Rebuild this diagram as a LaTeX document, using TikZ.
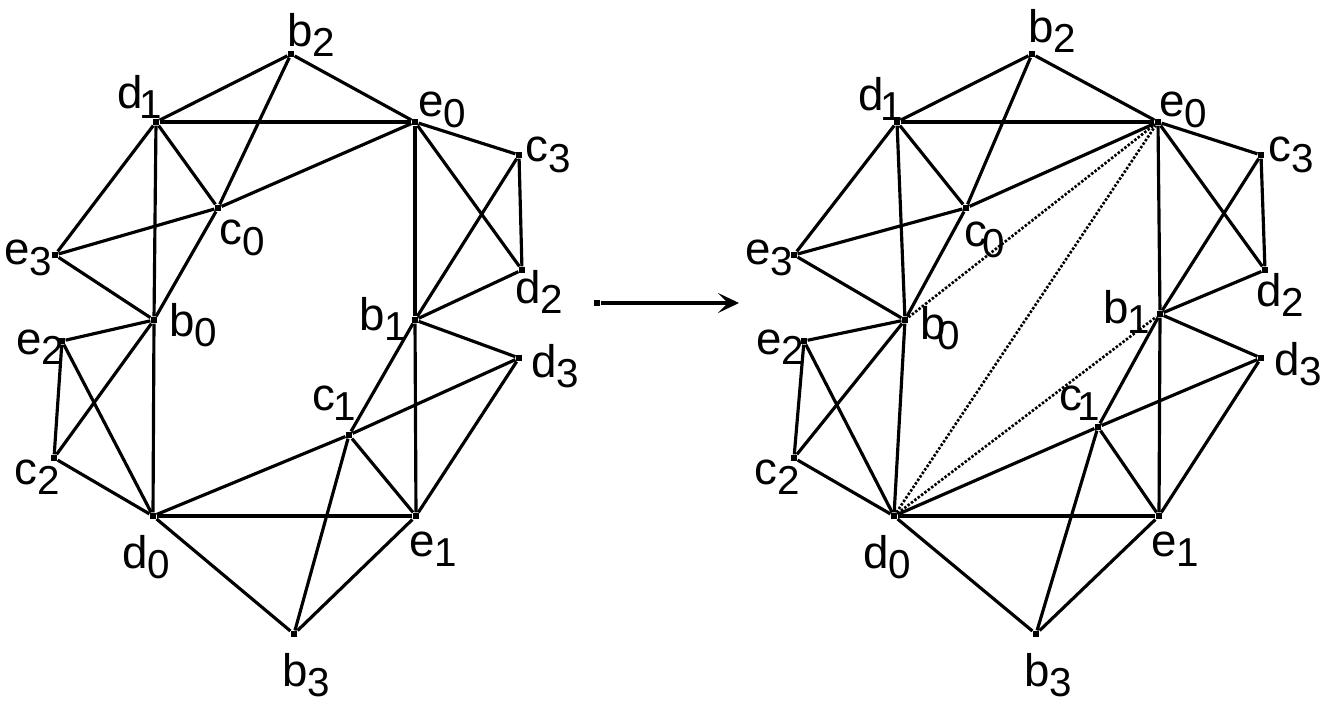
\documentclass[tikz,border=0pt]{standalone}
\usepackage{fontspec}
\setmainfont{Liberation Sans}
\usepackage{tikz}
\usetikzlibrary{arrows.meta}
% vertex label: letter with a lowered index
\newcommand{\vl}[3][0pt]{#2\kern#1\raisebox{-6pt}{\fontsize{23}{23}\selectfont #3}}

\begin{document}
\begin{tikzpicture}[x=0.02cm, y=-0.02cm,
  vtx/.style={rectangle, fill=black, inner sep=0pt, minimum size=0.13cm},
  lbl/.style={inner sep=0pt, font=\fontsize{26}{26}\selectfont},
  edge/.style={line width=1.8pt},
  hint/.style={dash pattern=on 1.4pt off 1pt, line width=1.5pt}]
  \useasboundingbox (0,0) rectangle (1325,709);

  % left graph
  \foreach \n/\x/\y in {b2/291/54, d1/156/122, e0/415/122, c3/519/155, c0/218/208,
      e3/55/255, d2/522/270, b0/154/320, b1/415/320, e2/62/341, d3/519/358,
      c1/349/435, c2/54/458, d0/153/516, e1/416/516, b3/294/634}
    \node[vtx] (L\n) at (\x,\y) {};
  \foreach \n/\mn/\sb/\kn/\x/\y in {b2/b/2/0pt/311/35, d1/d/1/-2pt/140/97, e0/e/0/0pt/442/110,
      c3/c/3/0pt/548/155, c0/c/0/0pt/242/238, e3/e/3/0pt/28/258, d2/d/2/0pt/539/292,
      b0/b/0/0pt/193/325, b1/b/1/0pt/383/319, e2/e/2/0pt/40/347, d3/d/3/0pt/555/366,
      c1/c/1/-1pt/334/403, c2/c/2/0pt/37/477, d0/d/0/0pt/146/557, e1/e/1/0pt/433/549,
      b3/b/3/0pt/306/675}
    \node[lbl] (Lt\n) at (\x,\y) {\vl[\kn]{\mn}{\sb}};

  % right graph
  \foreach \n/\x/\y in {b2/1032/54, d1/897/122, e0/1158/122, c3/1261/155, c0/966/208,
      e3/794/255, d2/1265/270, b0/905/320, b1/1160/314, e2/804/341, d3/1261/358,
      c1/1098/427, c2/794/458, d0/894/516, e1/1159/516, b3/1036/634}
    \node[vtx] (R\n) at (\x,\y) {};
  \foreach \n/\mn/\sb/\kn/\x/\y in {b2/b/2/0pt/1052/31, d1/d/1/-2pt/881/99, e0/e/0/0pt/1183/110,
      c3/c/3/0pt/1291/155, c0/c/0/-3pt/985/240, e3/e/3/0pt/769/258, d2/d/2/0pt/1280/295,
      b0/b/0/-5pt/940/328, b1/b/1/-1pt/1127/312, e2/e/2/0pt/780/347, d3/d/3/0pt/1298/364,
      c1/c/1/-3pt/1080/403, c2/c/2/0pt/777/477, d0/d/0/0pt/887/557, e1/e/1/0pt/1175/549,
      b3/b/3/0pt/1048/675}
    \node[lbl] (Rt\n) at (\x,\y) {\vl[\kn]{\mn}{\sb}};

  % same edges in both
  \foreach \g in {L,R}
    \foreach \a/\b in {b2/d1, b2/e0, b2/c0, d1/e0, d1/e3, d1/c0, d1/b0, e0/c3, e0/c0,
        e3/c0, e0/b1, e0/d2, c3/d2, c3/b1, c0/b0, e3/b0, b0/e2, b0/d0, b0/c2, b1/d2,
        b1/d3, b1/e1, b1/c1, e2/c2, e2/d0, c2/d0, c1/d3, c1/d0, c1/e1, c1/b3, d3/e1,
        d0/e1, d0/b3, e1/b3}
      \draw[edge] (\g\a) -- (\g\b);

  % new diagonals
  \draw[hint] (Rb0) -- (Re0);
  \draw[hint] (Rd0) -- (Re0);
  \draw[hint] (Rd0) -- (Rb1);

  % map arrow
  \node[vtx] (src) at (597,303) {};
  \coordinate (dst) at (739,303);
  \draw[edge, -{Stealth[length=0.42cm, width=0.4cm, inset=0.2cm]}] (src) -- (dst);
\end{tikzpicture}
\end{document}
